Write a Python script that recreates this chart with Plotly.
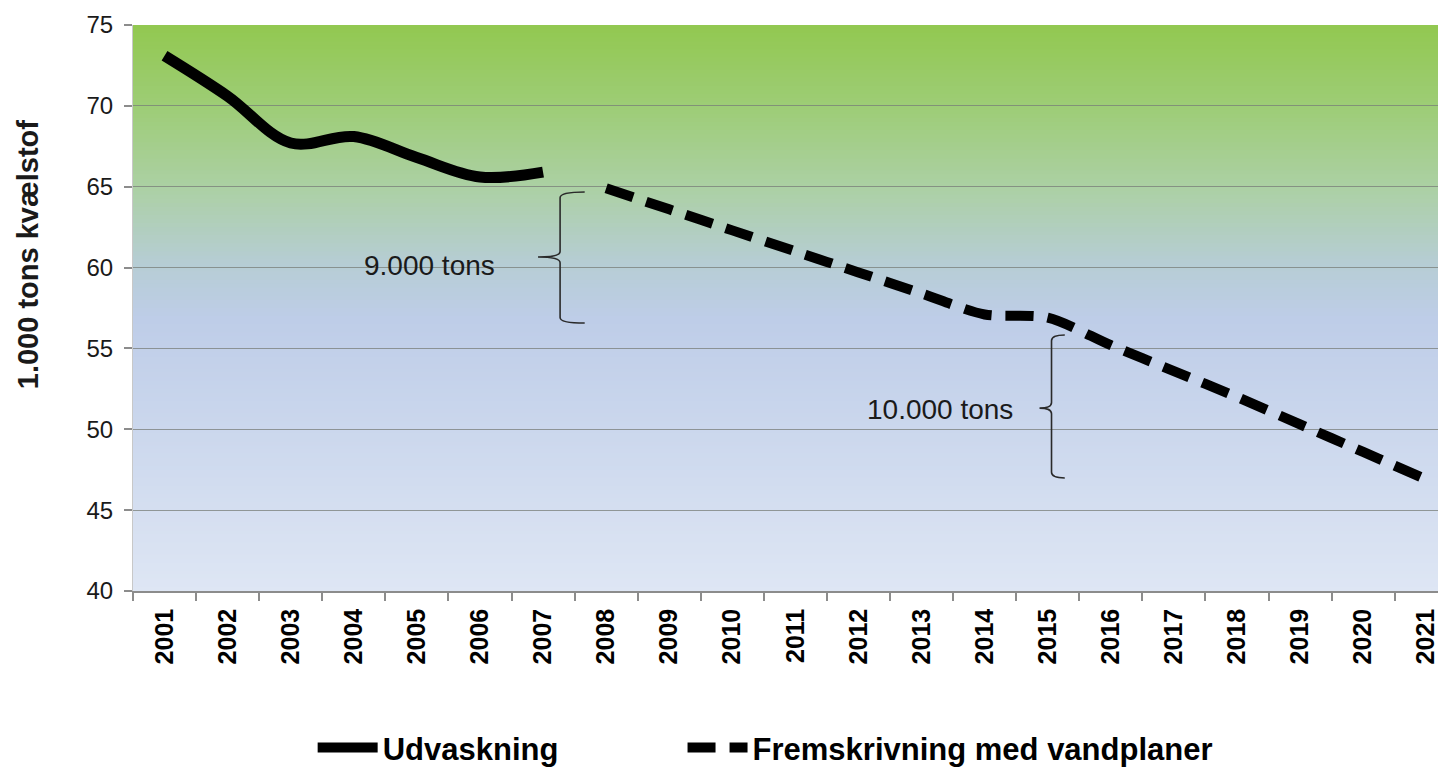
import plotly.graph_objects as go

years_hist = [2001, 2002, 2003, 2004, 2005, 2006, 2007]
udvaskning = [73.1, 70.6, 67.7, 68.1, 66.8, 65.6, 65.9]

years_proj = [2008, 2009, 2010, 2011, 2012, 2013, 2014, 2015, 2016, 2017, 2018, 2019, 2020, 2021]
fremskrivning = [64.9, 63.6, 62.3, 61.0, 59.7, 58.4, 57.1, 56.9, 55.2, 53.6, 52.0, 50.3, 48.6, 46.9]

all_years = list(range(2001, 2022))
y_ticks = [40, 45, 50, 55, 60, 65, 70, 75]

FONT = "Liberation Sans, Arial, sans-serif"

fig = go.Figure()
fig.add_trace(go.Scatter(
    x=years_hist, y=udvaskning, mode="lines", name="Udvaskning", legend="legend",
    line=dict(color="black", width=11, shape="spline", smoothing=1.0),
))
fig.add_trace(go.Scatter(
    x=years_proj, y=fremskrivning, mode="lines", name="Fremskrivning med vandplaner",
    legend="legend2",
    line=dict(color="black", width=10, shape="spline", smoothing=0.8, dash="28px,14px"),
))

# background gradient (paper coords, styling only)
stops = [
    (0.0, (222, 230, 244)),
    (0.48, (190, 205, 232)),
    (0.58, (182, 205, 212)),
    (0.71, (172, 208, 165)),
    (0.85, (158, 205, 120)),
    (1.0, (146, 200, 80)),
]

def col_at(t):
    for (t0, c0), (t1, c1) in zip(stops[:-1], stops[1:]):
        if t0 <= t <= t1:
            f = (t - t0) / (t1 - t0)
            return "rgb(%d,%d,%d)" % tuple(round(a + (b - a) * f) for a, b in zip(c0, c1))
    return "rgb(%d,%d,%d)" % stops[-1][1]

shapes = []
N = 140
for i in range(N):
    y0 = i / N
    y1 = (i + 1) / N + 0.002
    shapes.append(dict(type="rect", xref="paper", yref="paper", x0=0, x1=1, y0=y0, y1=min(y1, 1),
                       fillcolor=col_at((i + 0.5) / N), line=dict(width=0), layer="below"))

def brace(xv, xr, xt, ytop, ybot, ytip):
    dy = 0.35
    p = (f"M{xr},{ytop} Q{xv},{ytop} {xv},{ytop - dy} "
         f"L{xv},{ytip + dy} Q{xv},{ytip} {xt},{ytip} "
         f"Q{xv},{ytip} {xv},{ytip - dy} "
         f"L{xv},{ybot + dy} Q{xv},{ybot} {xr},{ybot}")
    return dict(type="path", xref="x", yref="y", path=p, line=dict(color="#2a2a2a", width=1.6))

shapes.append(brace(2007.27, 2007.66, 2006.92, 64.67, 56.57, 60.65))
shapes.append(brace(2015.06, 2015.27, 2014.87, 55.83, 46.99, 51.31))

annotations = [
    dict(x=2005.2, y=60.1, xref="x", yref="y", text="9.000 tons", showarrow=False,
         font=dict(family=FONT, size=28, color="#1a1a1a")),
    dict(x=2013.3, y=51.2, xref="x", yref="y", text="10.000 tons", showarrow=False,
         font=dict(family=FONT, size=28, color="#1a1a1a")),
    dict(x=-0.0795, y=0.595, xref="paper", yref="paper", text="<b>1.000 tons kvælstof</b>",
         textangle=-90, showarrow=False, xanchor="center", yanchor="middle",
         font=dict(family=FONT, size=29, color="#1a1a1a")),
]

legend_common = dict(orientation="h", yanchor="middle", xanchor="left", itemwidth=60,
                     font=dict(family=FONT, size=31, color="black", weight="bold"),
                     bgcolor="rgba(0,0,0,0)")

fig.update_layout(
    width=1446, height=772,
    margin=dict(l=125, r=0, t=17, b=189, autoexpand=False),
    paper_bgcolor="white", plot_bgcolor="white",
    shapes=shapes, annotations=annotations,
    showlegend=True,
    legend=dict(x=0.136, y=-0.277, **legend_common),
    legend2=dict(x=0.416, y=-0.277, **legend_common),
    xaxis=dict(
        range=[2000.5, 2021.44], tickmode="array", tickvals=all_years,
        ticktext=["<b>%d</b>" % y for y in all_years], tickangle=-90,
        ticks="", showgrid=False, zeroline=False, automargin=False,
        tickfont=dict(family=FONT, size=25, color="black"),
        showline=True, linecolor="#8c8c8c", linewidth=1.5,
        ticklabelstandoff=6,
        minor=dict(tickmode="linear", tick0=2000.5, dtick=1, ticks="outside",
                   ticklen=8, tickcolor="#8c8c8c", tickwidth=1.5, showgrid=False),
    ),
    yaxis=dict(
        range=[40, 75], tickmode="array", tickvals=y_ticks,
        ticks="outside", ticklen=8, tickcolor="#8c8c8c", tickwidth=1.5,
        showgrid=True, gridcolor="rgba(120,125,120,0.75)", gridwidth=1.2,
        zeroline=False, showline=True, linecolor="#c8c8c8", linewidth=1,
        automargin=False,
        tickfont=dict(family=FONT, size=24, color="#1a1a1a"),
        ticklabelstandoff=6,
    ),
)

fig.write_html("out.html")
